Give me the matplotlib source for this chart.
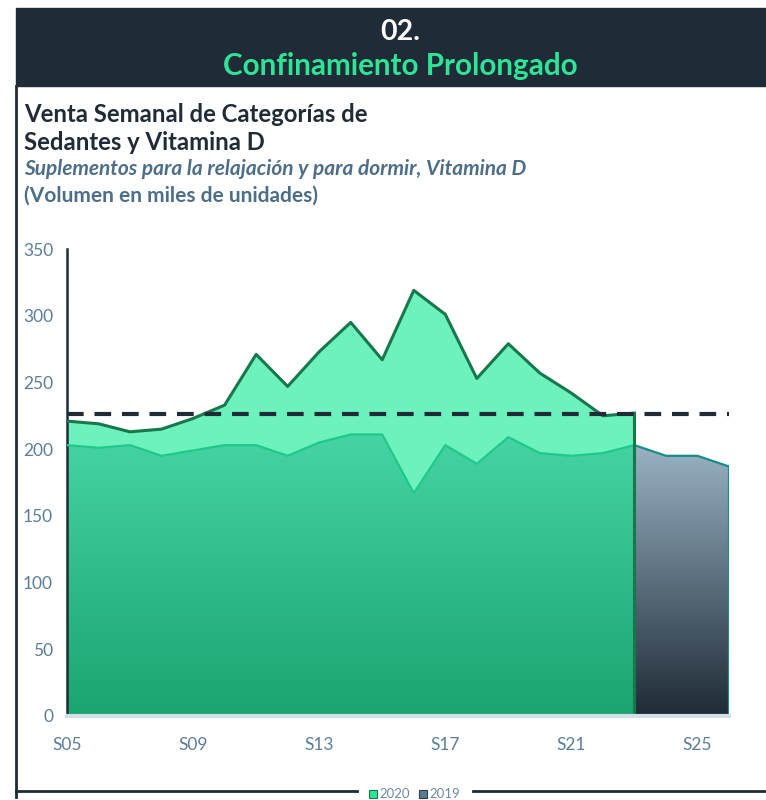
import numpy as np
import matplotlib
matplotlib.use("Agg")
import matplotlib.pyplot as plt
from matplotlib.patches import Polygon, Rectangle
from matplotlib.lines import Line2D
from matplotlib.colors import LinearSegmentedColormap

plt.rcParams['font.family'] = ['Lato', 'DejaVu Sans']

weeks = ["S05", "S06", "S07", "S08", "S09", "S10", "S11", "S12", "S13", "S14", "S15",
         "S16", "S17", "S18", "S19", "S20", "S21", "S22", "S23", "S24", "S25", "S26"]
sales_2020 = [221, 219, 213, 215, 223, 233, 271, 247, 273, 295, 267,
              319, 301, 253, 279, 257, 242, 225, 227]
sales_2019 = [203, 201, 203, 195, 199, 203, 203, 195, 205, 211, 211,
              167, 203, 189, 209, 197, 195, 197, 203, 195, 195, 187]
reference_level = 226
tick_labels = ["S05", "S09", "S13", "S17", "S21", "S25"]

W, H = 766, 800
fig = plt.figure(figsize=(W / 100, H / 100), dpi=100)

def fx(px):
    return px / W

def fy(py):
    return 1 - py / H

DARK = "#1f2b36"
BLUEGRAY = "#4d6e88"

# header band
fig.patches.append(Rectangle((fx(16), fy(86)), 1 - fx(16), fy(8) - fy(86),
                             transform=fig.transFigure, color=DARK, zorder=0))
fig.text(fx(400), fy(32), "02.", color="white", fontsize=20.5, fontweight="bold",
         ha="center", va="center")
fig.text(fx(400), fy(66), "Confinamiento Prolongado", color="#2ee596", fontsize=21.3,
         fontweight="bold", ha="center", va="center")

# frame lines
fig.add_artist(Line2D([fx(16), fx(16)], [fy(86), fy(797)], transform=fig.transFigure,
                      color=DARK, lw=2))
fig.add_artist(Line2D([fx(16), fx(357)], [fy(791), fy(791)], transform=fig.transFigure,
                      color=DARK, lw=2))
fig.add_artist(Line2D([fx(473), 1], [fy(791), fy(791)], transform=fig.transFigure,
                      color=DARK, lw=2))

# titles
fig.text(fx(24), fy(115), "Venta Semanal de Categorías de", color=DARK, fontsize=17.2,
         fontweight="bold", ha="left", va="center")
fig.text(fx(24), fy(142), "Sedantes y Vitamina D", color=DARK, fontsize=17.2,
         fontweight="bold", ha="left", va="center")
fig.text(fx(24), fy(169), "Suplementos para la relajación y para dormir, Vitamina D",
         color=BLUEGRAY, fontsize=15, fontweight="bold", fontstyle="italic",
         ha="left", va="center")
fig.text(fx(24), fy(196), "(Volumen en miles de unidades)", color=BLUEGRAY, fontsize=15,
         fontweight="bold", ha="left", va="center")

# axes
ax = fig.add_axes([fx(67), fy(716), fx(729) - fx(67), fy(249) - fy(716)])
x_all = np.arange(len(weeks))
n20 = len(sales_2020)
x20 = x_all[:n20]
y19 = np.array(sales_2019, dtype=float)
y20 = np.array(sales_2020, dtype=float)


def grad_area(xs, ys, bot, top, ytop, z):
    verts = np.column_stack([np.r_[xs, xs[::-1]], np.r_[ys, np.zeros(len(xs))]])
    patch = Polygon(verts, closed=True, fc="none", ec="none")
    ax.add_patch(patch)
    cmap = LinearSegmentedColormap.from_list("g", [bot, top])
    grad = np.linspace(0, 1, 256).reshape(-1, 1)
    im = ax.imshow(grad, cmap=cmap, extent=[xs[0], xs[-1], 0, ytop], origin="lower",
                   aspect="auto", zorder=z, interpolation="bicubic")
    im.set_clip_path(patch)


# 2020 area
ax.fill_between(x20, 0, y20, color="#6df1bd", lw=0, zorder=1)
# 2019 area (gradient) under 2020 range
grad_area(x20, y19[:n20], "#1aa470", "#47d5a5", 215, 2)
ax.plot(x20, y19[:n20], color="#1fc98c", lw=1.6, zorder=3)
# 2019 remaining weeks
x_rest = x_all[n20 - 1:]
grad_area(x_rest, y19[n20 - 1:], "#1f2b36", "#9ab4c6", 205, 2)
ax.plot(x_rest, y19[n20 - 1:], color="#178c88", lw=1.6, zorder=3)
ax.plot([x_all[-1], x_all[-1]], [0, y19[-1]], color="#178c88", lw=1.6, zorder=3)

# 2020 outline
ax.plot(x20, y20, color="#17784c", lw=2.2, zorder=4)
ax.plot([x20[-1], x20[-1]], [0, y20[-1]], color="#17784c", lw=2.2, zorder=4)

# reference dashed line
dl, = ax.plot([x_all[0], x_all[-1]], [reference_level, reference_level], color=DARK,
              lw=3, zorder=5)
dl.set_dashes([4, 2.6])

ax.set_xlim(0, len(weeks) - 1)
ax.set_ylim(0, 350)
ax.set_facecolor("none")
for s in ["top", "right"]:
    ax.spines[s].set_visible(False)
ax.spines["left"].set_color(DARK)
ax.spines["left"].set_linewidth(1.8)
ax.spines["bottom"].set_color("#d3dee7")
ax.spines["bottom"].set_linewidth(3)
ax.spines["bottom"].set_zorder(6)
ax.set_yticks(np.arange(0, 351, 50))
ax.set_xticks([weeks.index(t) for t in tick_labels])
ax.set_xticklabels(tick_labels)
ax.tick_params(axis="both", length=0, colors="#5a7e9a", labelsize=12.5)
ax.tick_params(axis="y", pad=10)
ax.tick_params(axis="x", pad=15)

# legend
fig.patches.append(Rectangle((fx(369), fy(798)), fx(8), fy(790) - fy(798),
                             transform=fig.transFigure, fc="#2ee596", ec="#17784c", lw=0.8))
fig.text(fx(379), fy(794), "2020", color="#6e8aa0", fontsize=9.5, ha="left", va="center")
fig.patches.append(Rectangle((fx(419), fy(798)), fx(8), fy(790) - fy(798),
                             transform=fig.transFigure, fc="#5f7b8f", ec="#2c3e4c", lw=0.8))
fig.text(fx(429), fy(794), "2019", color="#6e8aa0", fontsize=9.5, ha="left", va="center")

fig.savefig("out.png", dpi=100)
